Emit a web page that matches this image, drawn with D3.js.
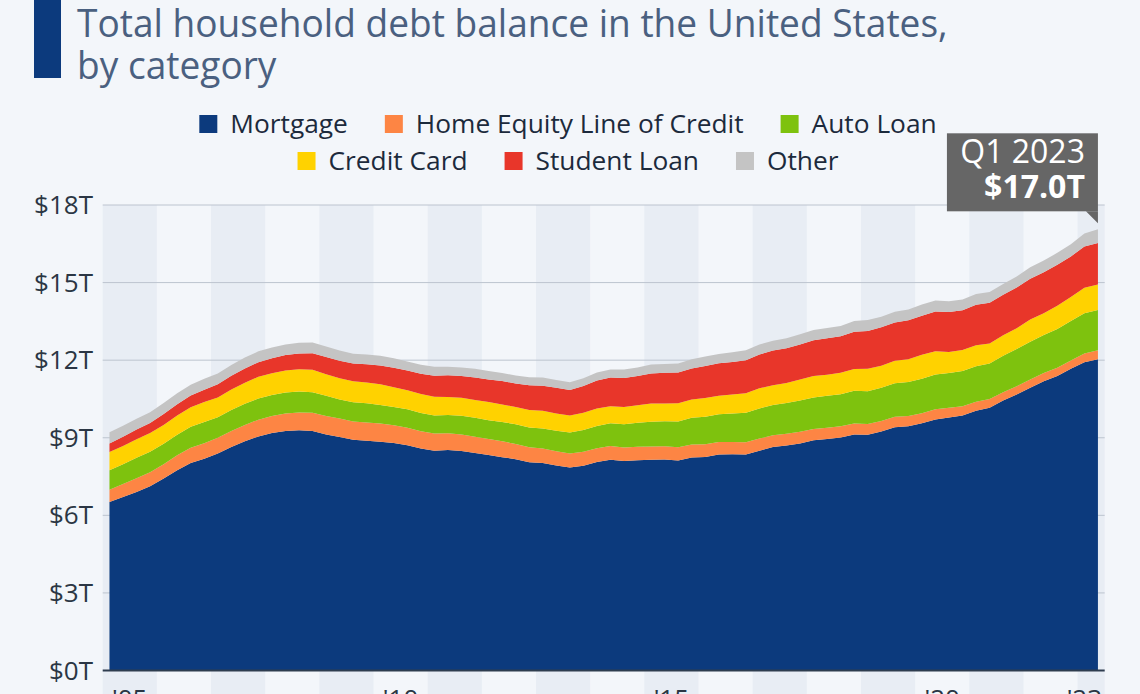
<!DOCTYPE html>
<html><head><meta charset="utf-8">
<script src="https://cdn.jsdelivr.net/npm/d3@7"></script>
<style>
html,body{margin:0;padding:0;background:#f3f6fa;}
svg{display:block;font-family:"Open Sans",sans-serif;}
</style></head><body>
<svg id="c" width="1140" height="694"></svg>
<script>
// ---------- DATA (trillions USD, Q4 2004 – Q1 2023) ----------
const quarters = ["Q4 2004"];
d3.range(2005, 2023).forEach(y => [1,2,3,4].forEach(q => quarters.push("Q" + q + " " + y)));
quarters.push("Q1 2023");

const mortgage = [6.52,6.71,6.90,7.12,7.42,7.74,8.02,8.19,8.39,8.64,8.86,9.05,9.18,9.26,9.29,9.26,9.13,9.03,8.92,8.88,
  8.85,8.80,8.71,8.58,8.50,8.53,8.49,8.41,8.33,8.25,8.17,8.05,8.02,7.93,7.85,7.92,8.06,8.15,
  8.10,8.13,8.15,8.16,8.12,8.24,8.26,8.35,8.36,8.35,8.50,8.64,8.70,8.78,8.90,8.95,9.01,9.13,
  9.12,9.24,9.41,9.44,9.56,9.71,9.78,9.86,10.04,10.16,10.44,10.67,10.93,11.18,11.39,11.67,11.92,12.04];
const heloc = [0.47,0.50,0.53,0.55,0.56,0.58,0.59,0.60,0.61,0.62,0.63,0.65,0.66,0.68,0.69,0.71,0.71,0.71,0.71,0.71,
  0.70,0.68,0.68,0.67,0.66,0.64,0.64,0.63,0.62,0.61,0.59,0.58,0.56,0.55,0.54,0.54,0.53,0.53,
  0.52,0.52,0.51,0.51,0.51,0.50,0.49,0.49,0.48,0.48,0.47,0.46,0.45,0.45,0.44,0.44,0.43,0.42,
  0.41,0.41,0.40,0.40,0.39,0.39,0.38,0.36,0.35,0.34,0.32,0.32,0.32,0.32,0.32,0.32,0.34,0.34];
const auto = [0.75,0.77,0.80,0.79,0.79,0.80,0.82,0.82,0.79,0.81,0.82,0.82,0.81,0.81,0.81,0.79,0.78,0.74,0.74,0.74,
  0.72,0.71,0.71,0.71,0.70,0.71,0.72,0.73,0.73,0.75,0.76,0.77,0.78,0.79,0.81,0.84,0.86,0.88,
  0.90,0.93,0.96,0.97,1.00,1.03,1.06,1.07,1.10,1.14,1.16,1.17,1.19,1.21,1.22,1.23,1.24,1.27,
  1.27,1.28,1.30,1.32,1.33,1.35,1.34,1.36,1.37,1.37,1.41,1.44,1.46,1.47,1.50,1.52,1.55,1.56];
const creditCard = [0.71,0.70,0.71,0.72,0.72,0.74,0.75,0.77,0.77,0.80,0.82,0.84,0.84,0.85,0.86,0.87,0.84,0.82,0.81,0.81,
  0.80,0.76,0.74,0.73,0.73,0.70,0.70,0.69,0.70,0.68,0.67,0.67,0.68,0.67,0.66,0.67,0.68,0.66,
  0.67,0.68,0.70,0.68,0.70,0.71,0.73,0.71,0.73,0.75,0.78,0.76,0.78,0.81,0.83,0.82,0.83,0.84,
  0.87,0.85,0.87,0.88,0.93,0.89,0.82,0.81,0.82,0.77,0.79,0.80,0.86,0.84,0.89,0.93,0.99,0.99];
const studentLoan = [0.33,0.36,0.38,0.39,0.43,0.44,0.45,0.48,0.51,0.53,0.55,0.56,0.58,0.60,0.61,0.64,0.66,0.68,0.69,0.70,
  0.72,0.76,0.76,0.78,0.81,0.84,0.84,0.87,0.87,0.90,0.91,0.96,0.97,0.99,0.99,1.03,1.08,1.11,
  1.12,1.13,1.16,1.19,1.19,1.20,1.23,1.26,1.26,1.28,1.31,1.34,1.34,1.36,1.38,1.41,1.41,1.44,
  1.46,1.49,1.48,1.50,1.51,1.54,1.54,1.54,1.56,1.58,1.57,1.58,1.58,1.59,1.59,1.57,1.60,1.60];
const other = [0.43,0.42,0.41,0.42,0.42,0.42,0.42,0.42,0.41,0.41,0.42,0.42,0.42,0.41,0.41,0.41,0.41,0.39,0.38,0.38,
  0.38,0.36,0.35,0.35,0.35,0.33,0.33,0.34,0.33,0.31,0.31,0.31,0.32,0.30,0.30,0.30,0.31,0.31,
  0.33,0.33,0.35,0.34,0.35,0.36,0.37,0.36,0.38,0.38,0.39,0.38,0.39,0.39,0.40,0.39,0.40,0.41,
  0.42,0.41,0.41,0.42,0.43,0.43,0.42,0.42,0.42,0.42,0.42,0.43,0.44,0.45,0.46,0.47,0.50,0.53];

const seriesNames = ["Mortgage","Home Equity Line of Credit","Auto Loan","Credit Card","Student Loan","Other"];
const seriesData = [mortgage, heloc, auto, creditCard, studentLoan, other];
const colors = ["#0c3a7d","#fd8544","#7ec20e","#ffd200","#e8362a","#c4c4c4"];
const yTicks = [0,3,6,9,12,15,18];
const xTickLabels = ["'05","'10","'15","'20","'23"];
const xTickIdx = [1.5,21.5,41.5,61.5,72];
const calloutTitle = "Q1 2023";
const calloutValue = "$17.0T";

// ---------- CHART ----------
const W = 1140, H = 694;
const svg = d3.select("#c");
svg.append("rect").attr("width", W).attr("height", H).attr("fill", "#f3f6fa");

const n = quarters.length;
const x = d3.scaleLinear().domain([-0.5, n - 0.5]).range([102.7, 1104.7]);
const y = d3.scaleLinear().domain([0, 18]).range([670.5, 205]);
const left = x(-0.5), right = x(n - 0.5);

// alternating bands, 4 quarters each
d3.range(0, Math.ceil(n / 4)).forEach(k => {
  if (k % 2 !== 0) return;
  const x0 = x(4 * k - 0.5), x1 = Math.min(x(4 * k + 3.5), right);
  svg.append("rect").attr("x", x0).attr("y", y(18)).attr("width", x1 - x0)
    .attr("height", H - y(18)).attr("fill", "#e8edf4");
});

// gridlines
svg.append("g").selectAll("line").data(yTicks.filter(d => d > 0)).join("line")
  .attr("x1", left).attr("x2", right).attr("y1", d => y(d)).attr("y2", d => y(d))
  .attr("stroke", "#bcc4cf").attr("stroke-width", 1);

// y labels
svg.append("g").selectAll("text").data(yTicks).join("text")
  .attr("x", 93).attr("y", d => y(d)).attr("dy", "0.35em").attr("text-anchor", "end")
  .attr("font-size", 26).attr("fill", "#2b3644").text(d => "$" + d + "T");

// stacked areas
const rows = quarters.map((q, i) => {
  const r = { q };
  seriesNames.forEach((nm, s) => r[nm] = seriesData[s][i]);
  return r;
});
const stack = d3.stack().keys(seriesNames)(rows);
const area = d3.area().x((d, i) => x(i)).y0(d => y(d[0])).y1(d => y(d[1]));
svg.append("g").selectAll("path").data(stack).join("path")
  .attr("d", area).attr("fill", (d, i) => colors[i]);

// baseline
svg.append("line").attr("x1", left).attr("x2", right).attr("y1", y(0)).attr("y2", y(0))
  .attr("stroke", "#2e3d4f").attr("stroke-width", 2);

// x labels (cut at bottom edge as in reference)
svg.append("g").selectAll("text").data(xTickLabels).join("text")
  .attr("x", (d, i) => x(xTickIdx[i])).attr("y", 708).attr("text-anchor", "middle")
  .attr("font-size", 26).attr("fill", "#2b3644").text(d => d);

// title
svg.append("rect").attr("x", 34).attr("y", 0).attr("width", 27).attr("height", 78).attr("fill", "#0c3a7d");
const tg = svg.append("g").attr("fill", "#4a6080").attr("font-size", 38);
const t1 = tg.append("text").attr("x", 0).attr("y", 37).text("Total household debt balance in the United States,");
tg.append("text").attr("x", 0).attr("y", 79).text("by category");
const sx = 871 / t1.node().getComputedTextLength();
tg.attr("transform", `translate(77,0) scale(${sx},1)`);

// legend
const legendRows = [[0,1,2],[3,4,5]];
const legendY = [124, 161];
legendRows.forEach((row, r) => {
  const g = svg.append("g");
  let cx = 0;
  row.forEach((s, j) => {
    g.append("rect").attr("x", cx).attr("y", legendY[r] - 9).attr("width", 18).attr("height", 18).attr("fill", colors[s]);
    const t = g.append("text").attr("x", cx + 31).attr("y", legendY[r]).attr("dy", "0.35em")
      .attr("font-size", 26.3).attr("fill", "#1c2a3c").text(seriesNames[s]);
    cx += 31 + t.node().getComputedTextLength() + (j < row.length - 1 ? 37 : 0);
  });
  g.attr("transform", `translate(${568 - cx / 2},0)`);
});

// callout
const last = n - 1;
const topVal = d3.sum(seriesData, s => s[last]);
const tipX = x(last), tipY = y(topVal) - 6;
const bx1 = tipX, by1 = tipY - 12, bx0 = bx1 - 151, by0 = by1 - 78;
const cg = svg.append("g");
cg.append("rect").attr("x", bx0).attr("y", by0).attr("width", bx1 - bx0).attr("height", by1 - by0).attr("fill", "#666666");
cg.append("path").attr("d", `M${bx1 - 12},${by1} L${bx1},${by1} L${bx1},${tipY} Z`).attr("fill", "#666666");
cg.append("text").attr("x", bx1 - 13).attr("y", by0 + 30).attr("text-anchor", "end")
  .attr("font-size", 32).attr("fill", "#ffffff").text(calloutTitle);
cg.append("text").attr("x", bx1 - 13).attr("y", by0 + 65).attr("text-anchor", "end")
  .attr("font-size", 32).attr("font-weight", "bold").attr("fill", "#ffffff").text(calloutValue);
</script>
</body></html>
